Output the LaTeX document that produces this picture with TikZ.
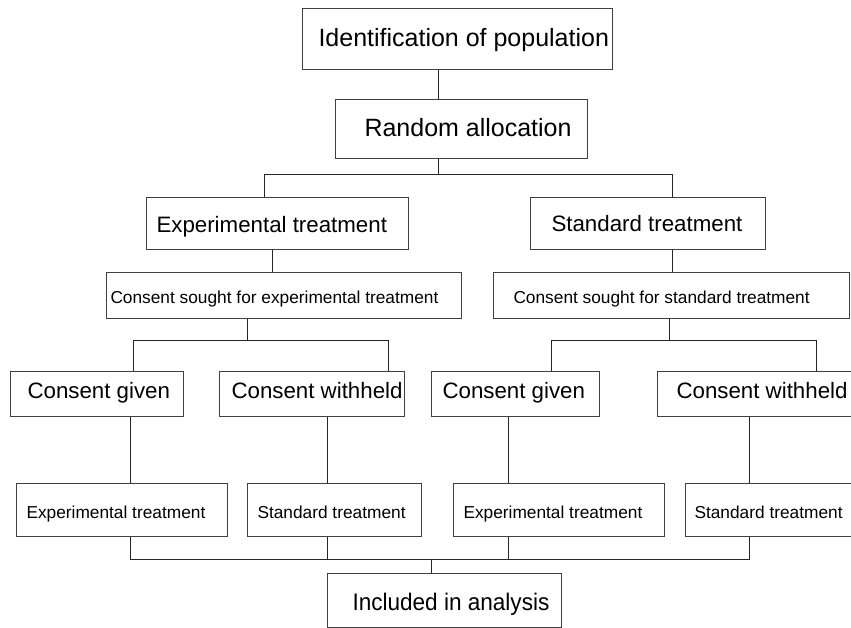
\documentclass[tikz,border=0pt]{standalone}
\usepackage{fontspec}
\setmainfont{Liberation Sans}
\begin{document}
\begin{tikzpicture}[x=1pt,y=-1pt,
  box/.style={draw=black!75, line width=1pt, anchor=north west, inner ysep=0pt},
  big/.style={font=\fontsize{25}{30}\selectfont, text height=17.9pt, text depth=2pt},
  mid/.style={font=\fontsize{22.3}{26}\selectfont, text height=16pt, text depth=0pt},
  midrow/.style={font=\fontsize{22.3}{26}\selectfont, text height=16pt, text depth=7pt},
  sml/.style={font=\fontsize{17.3}{21}\selectfont, text height=16.4pt, text depth=0pt},
  smlrow/.style={font=\fontsize{17.3}{21}\selectfont, text height=17.4pt, text depth=0pt},
  conn/.style={draw=black!85, line width=1pt}]
\useasboundingbox (0,0) rectangle (851,627);
\clip (0,0) rectangle (851,627);

% boxes
\node[box,big,minimum height=61,inner xsep=16] (id) at (302,8) {\makebox[278pt][l]{Identification of population}};
\node[box,big,minimum height=59,inner xsep=29] (rand) at (335,99) {\makebox[194pt][l]{Random allocation}};
\node[box,mid,minimum height=52,inner xsep=10,text height=18pt] (expT) at (146,197) {\makebox[242pt][l]{Experimental treatment}};
\node[box,mid,minimum height=52,inner xsep=21] (stdT) at (530,197) {\makebox[193pt][l]{Standard treatment}};
\node[box,sml,minimum height=46,inner xsep=4] (cexp) at (106,272) {\makebox[347pt][l]{Consent sought for experimental treatment}};
\node[box,sml,minimum height=46,inner xsep=20] (cstd) at (493,272) {\makebox[316pt][l]{Consent sought for standard treatment}};
\node[box,midrow,minimum height=45,inner xsep=17] (g1) at (10,371) {\makebox[139pt][l]{Consent given}};
\node[box,midrow,minimum height=45,inner xsep=12] (w1) at (219,371) {\makebox[161pt][l]{Consent withheld}};
\node[box,midrow,minimum height=45,inner xsep=11] (g2) at (431,371) {\makebox[146pt][l]{Consent given}};
\node[box,midrow,minimum height=45,inner xsep=19] (w2) at (657,371) {\makebox[165pt][l]{Consent withheld}};
\node[box,smlrow,minimum height=53,inner xsep=10] (e1) at (16,483) {\makebox[191pt][l]{Experimental treatment}};
\node[box,smlrow,minimum height=53,inner xsep=10] (s1) at (247,483) {\makebox[154pt][l]{Standard treatment}};
\node[box,smlrow,minimum height=53,inner xsep=10] (e2) at (453,483) {\makebox[191pt][l]{Experimental treatment}};
\node[box,smlrow,minimum height=53,inner xsep=9] (s2) at (685,483) {\makebox[157pt][l]{Standard treatment}};
\node[box,minimum height=53.5,inner xsep=25,font=\fontsize{24}{28}\selectfont,text height=21.2pt,text depth=0pt] (inc) at (327,573) {\makebox[184pt][l]{\scalebox{0.94}[1]{Included in analysis}}};

% junction coordinates
\coordinate (xa) at (438,0);
\coordinate (xb) at (264,0);
\coordinate (xc) at (672,0);
\coordinate (xd) at (272,0);
\coordinate (xe) at (247,0);
\coordinate (xf) at (133,0);
\coordinate (xg) at (388,0);
\coordinate (xh) at (669,0);
\coordinate (xi) at (551,0);
\coordinate (xj) at (816,0);
\coordinate (xk) at (130,0);
\coordinate (xl) at (327,0);
\coordinate (xm) at (508,0);
\coordinate (xn) at (749,0);
\coordinate (xo) at (431,0);
\coordinate (ya) at (0,174);
\coordinate (yb) at (0,340);
\coordinate (yc) at (0,559);

% connectors
\draw[conn] (id.south -| xa) -- (rand.north -| xa);
\draw[conn] (rand.south -| xa) -- (xa |- ya);
\draw[conn] (expT.north -| xb) -- (xb |- ya) -- (xc |- ya) -- (stdT.north -| xc);
\draw[conn] (expT.south -| xd) -- (cexp.north -| xd);
\draw[conn] (stdT.south -| xc) -- (cstd.north -| xc);
\draw[conn] (cexp.south -| xe) -- (xe |- yb);
\draw[conn] (g1.north -| xf) -- (xf |- yb) -- (xg |- yb) -- (w1.north -| xg);
\draw[conn] (cstd.south -| xh) -- (xh |- yb);
\draw[conn] (g2.north -| xi) -- (xi |- yb) -- (xj |- yb) -- (w2.north -| xj);
\draw[conn] (g1.south -| xk) -- (e1.north -| xk);
\draw[conn] (w1.south -| xl) -- (s1.north -| xl);
\draw[conn] (g2.south -| xm) -- (e2.north -| xm);
\draw[conn] (w2.south -| xn) -- (s2.north -| xn);
\draw[conn] (e1.south -| xk) -- (xk |- yc) -- (xn |- yc) -- (s2.south -| xn);
\draw[conn] (s1.south -| xl) -- (xl |- yc);
\draw[conn] (e2.south -| xm) -- (xm |- yc);
\draw[conn] (xo |- yc) -- (inc.north -| xo);
\end{tikzpicture}
\end{document}
